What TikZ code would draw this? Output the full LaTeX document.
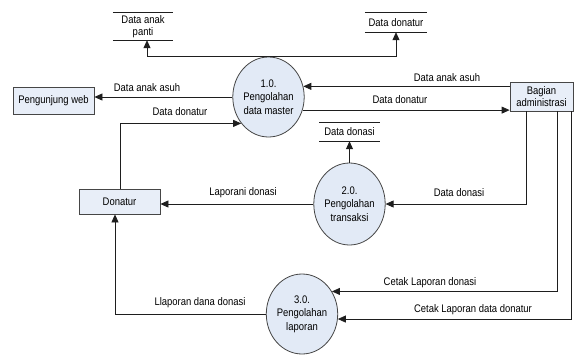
\documentclass[tikz,border=0pt]{standalone}
\usepackage{fontspec}
\setmainfont[FakeStretch=0.86]{Liberation Sans}
\usetikzlibrary{arrows.meta,shapes.geometric}
\definecolor{boxc}{RGB}{232,238,248}
\definecolor{procc}{RGB}{226,234,246}
\definecolor{bordc}{RGB}{70,70,70}
\definecolor{linec}{RGB}{30,30,30}
\begin{document}
\begin{tikzpicture}[x=1pt,y=-1pt,
  every node/.style={font=\fontsize{11}{12.5}\selectfont},
  entity/.style={draw=bordc, fill=boxc, line width=0.8pt, rectangle, inner sep=1pt, align=center},
  proc/.style={draw=bordc, fill=procc, line width=0.8pt, ellipse, inner sep=0pt, align=center, font=\fontsize{11}{13.5}\selectfont},
  store/.style={rectangle, inner sep=0pt, align=center, font=\fontsize{11}{12.5}\selectfont},
  storeline/.style={draw=linec, line width=0.8pt},
  arr/.style={-{Triangle[length=8pt,width=7pt]}, draw=linec, line width=0.8pt},
  lbl/.style={inner sep=0pt, anchor=center}]
\useasboundingbox (0,0) rectangle (579,354);

% entities
\node[entity, minimum width=81pt, minimum height=27pt] (pw) at (53.5,100.5) {Pengunjung web};
\node[entity, minimum width=81pt, minimum height=25pt] (dn) at (119.5,201.5) {Donatur};
\node[entity, minimum width=63pt, minimum height=29pt, font=\fontsize{11}{12}\selectfont] (ba) at (541.5,96.5) {Bagian\\administrasi};

% processes
\node[proc, minimum width=67pt, minimum height=80pt] (p1) at (268.5,97) {1.0.\\Pengolahan\\data master};
\node[proc, minimum width=67pt, minimum height=82pt] (p2) at (349.5,204) {2.0.\\Pengolahan\\transaksi};
\node[proc, minimum width=70pt, minimum height=80pt] (p3) at (302,314) {3.0.\\Pengolahan\\laporan};

% data stores
\node[store, minimum width=60pt, minimum height=27pt] (st1) at (143,26.5) {Data anak\\panti};
\node[store, minimum width=62pt, minimum height=19pt] (st2) at (396,22.5) {Data donatur};
\node[store, minimum width=60pt, minimum height=18pt] (st3) at (349.5,132) {Data donasi};
\foreach \s in {st1,st2,st3}{
  \draw[storeline] (\s.north west) -- (\s.north east);
  \draw[storeline] (\s.south west) -- (\s.south east);
}

% flows
\draw[arr] (p1.north) -| ([xshift=4pt]st1.south);
\draw[arr] (p1.north) -| (st2.south);
\draw[arr] (p1.west) -- (p1.west -| pw.east);
\draw[arr] ([xshift=0.5pt]dn.north) |- (p1.224);
\draw[arr] (ba.west |- p1.17) -- (p1.17);
\draw[arr] (p1.339) -- (p1.339 -| ba.west);
\draw[arr] (p2) -- (st3);
\draw[arr] (p2.west) -- (p2.west -| dn.east);
\draw[arr] ([xshift=-15.5pt]ba.south) |- (p2.east);
\draw[arr] ([xshift=15.5pt]ba.south) |- (p3.37);
\draw[arr] ([xshift=29.5pt]ba.south) |- (p3.352);
\draw[arr] (p3.west) -| ([xshift=-4.5pt]dn.south);

% labels
\node[lbl] (l1) at (147,88) {Data anak asuh};
\node[lbl] (l2) at (180,112) {Data donatur};
\node[lbl] (l3) at (447,78) {Data anak asuh};
\node[lbl] (l4) at (400,100) {Data donatur};
\node[lbl] (l5) at (243,193) {Laporani donasi};
\node[lbl] (l6) at (459,193) {Data donasi};
\node[lbl] (l7) at (430,283) {Cetak Laporan donasi};
\node[lbl] (l8) at (473,310) {Cetak Laporan data donatur};
\node[lbl] (l9) at (200,303) {Llaporan dana donasi};
\end{tikzpicture}
\end{document}
